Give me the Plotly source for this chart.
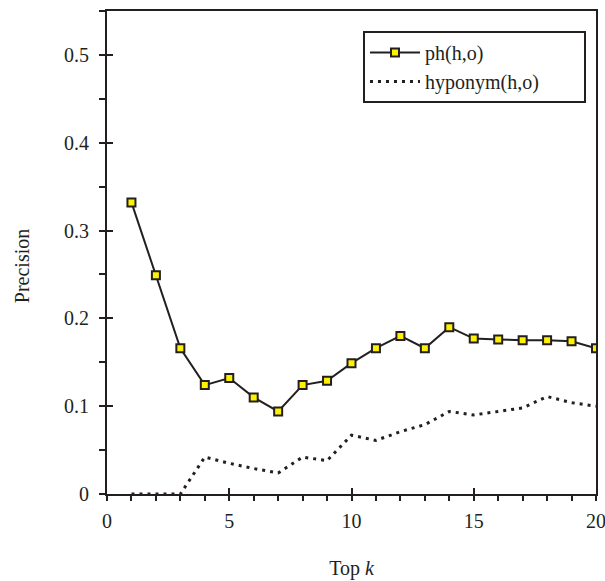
import plotly.graph_objects as go

k = list(range(1, 21))
ph = [0.332, 0.249, 0.166, 0.124, 0.132, 0.110, 0.094, 0.124, 0.129, 0.149,
      0.166, 0.180, 0.166, 0.190, 0.177, 0.176, 0.175, 0.175, 0.174, 0.166]
hyponym = [0.0, 0.0, 0.0, 0.042, 0.035, 0.029, 0.024, 0.042, 0.038, 0.067,
           0.061, 0.071, 0.079, 0.094, 0.090, 0.094, 0.098, 0.111, 0.104, 0.100]

x_ticks = [0, 5, 10, 15, 20]
y_ticks = [0, 0.1, 0.2, 0.3, 0.4, 0.5]
y_tick_labels = ["0", "0.1", "0.2", "0.3", "0.4", "0.5"]

INK = "#231f20"
FONT = "Liberation Serif"
FS = 20
PAD = "\u00a0" * 8

fig = go.Figure()
fig.add_trace(go.Scatter(
    x=k, y=hyponym, mode="lines", name="hyponym(h,o)" + PAD,
    line=dict(color=INK, width=3, dash="3px,5px"),
))
fig.add_trace(go.Scatter(
    x=k, y=ph, mode="lines+markers", name="ph(h,o)",
    line=dict(color=INK, width=2),
    marker=dict(symbol="square", size=8, color="#fff200",
                line=dict(color=INK, width=2)),
))
# invisible trace to hold overlay axes (inside tick marks)
fig.add_trace(go.Scatter(x=[None], y=[None], xaxis="x2", yaxis="y2",
                         showlegend=False, hoverinfo="skip"))

axis_common = dict(showgrid=False, zeroline=False, linecolor=INK, linewidth=2,
                   tickcolor=INK, tickwidth=2, automargin=False,
                   ticklabeloverflow="allow",
                   tickfont=dict(family=FONT, size=FS, color=INK))

fig.update_layout(
    width=605, height=581,
    margin=dict(l=107, r=9, t=11, b=87),
    paper_bgcolor="white", plot_bgcolor="white",
    font=dict(family=FONT, size=FS, color=INK),
    xaxis=dict(range=[0, 20], tickvals=x_ticks, ticktext=[str(v) for v in x_ticks],
               ticks="outside", ticklen=5, showline=True, mirror=True,
               ticklabelstandoff=3,
               minor=dict(dtick=1, tick0=0, ticks="outside", ticklen=5,
                          tickwidth=2, tickcolor=INK),
               title=dict(text="Top <i>k</i>", standoff=30,
                          font=dict(family=FONT, size=FS, color=INK)),
               **axis_common),
    yaxis=dict(range=[0, 0.55], tickvals=y_ticks, ticktext=y_tick_labels,
               ticks="outside", ticklen=6, showline=True, mirror=True,
               ticklabelstandoff=6,
               minor=dict(dtick=0.05, tick0=0, ticks="outside", ticklen=6,
                          tickwidth=2, tickcolor=INK),
               **axis_common),
    xaxis2=dict(overlaying="x", range=[0, 20], tickvals=x_ticks, ticks="inside",
                ticklen=6, showticklabels=False, showgrid=False, zeroline=False,
                showline=False, tickcolor=INK, tickwidth=2, side="bottom"),
    yaxis2=dict(overlaying="y", range=[0, 0.55], tickvals=y_ticks, ticks="inside",
                ticklen=6, showticklabels=False, showgrid=False, zeroline=False,
                showline=False, tickcolor=INK, tickwidth=2, side="left"),
    legend=dict(x=0.5235, y=0.9586, xanchor="left", yanchor="top",
                bordercolor=INK, borderwidth=2, bgcolor="white",
                font=dict(family=FONT, size=FS, color=INK),
                itemwidth=50, traceorder="reversed",
                tracegroupgap=0),
    annotations=[dict(text="Precision", xref="paper", yref="paper",
                      x=-0.1738, y=0.4717, xanchor="center", yanchor="middle",
                      textangle=-90, showarrow=False,
                      font=dict(family=FONT, size=FS, color=INK))],
    showlegend=True,
)

fig.write_html("out.html", config={"displayModeBar": False},
               post_script="document.body.style.margin='0';")
